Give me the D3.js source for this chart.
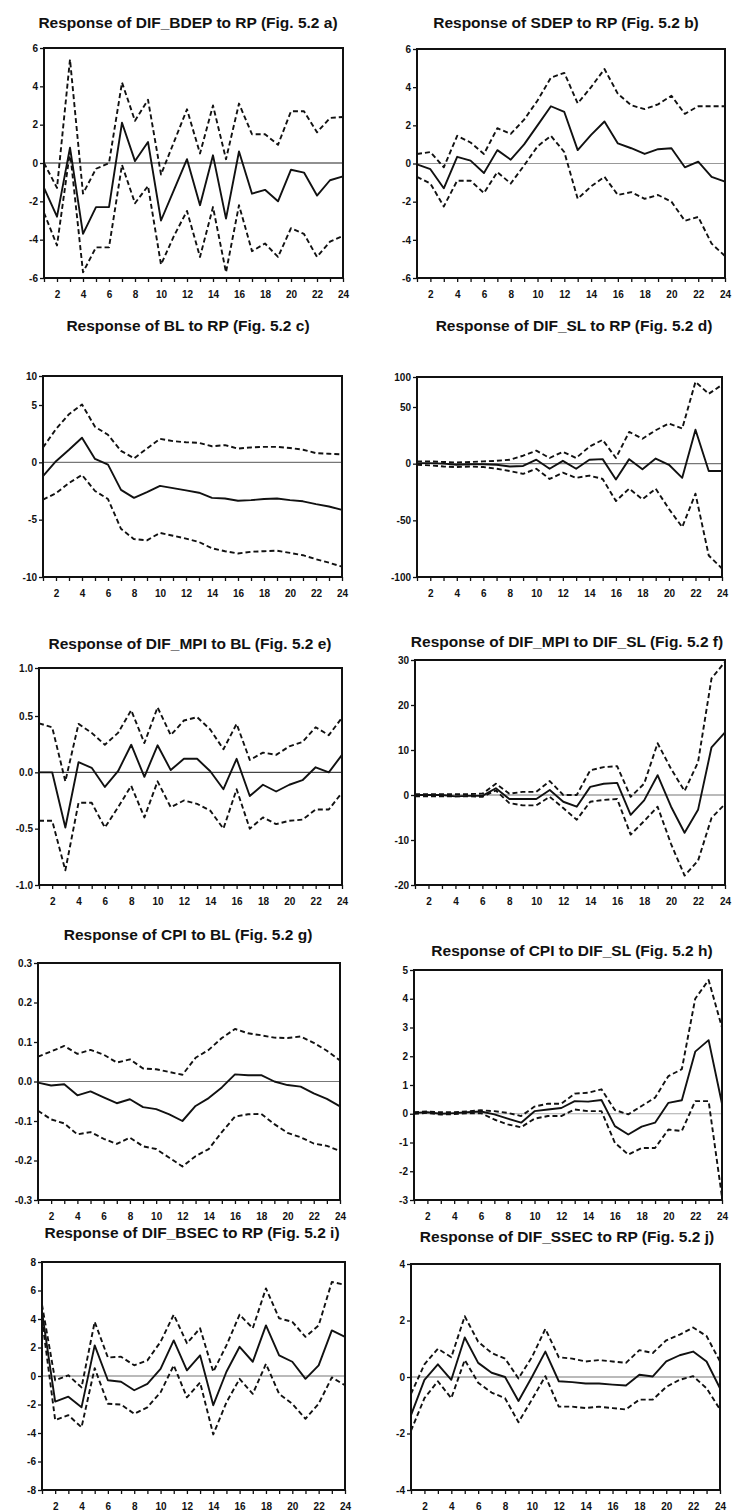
<!DOCTYPE html>
<html>
<head>
<meta charset="utf-8">
<script src="https://cdn.jsdelivr.net/npm/d3@7"></script>
<style>
  html, body { margin: 0; padding: 0; background: #fff; }
  svg { display: block; }
</style>
</head>
<body>
<svg id="chart" width="737" height="1511"></svg>
<script>
const periods = [1, 2, 3, 4, 5, 6, 7, 8, 9, 10, 11, 12, 13, 14, 15, 16, 17, 18, 19, 20, 21, 22, 23, 24];
const xTickLabels = [2, 4, 6, 8, 10, 12, 14, 16, 18, 20, 22, 24];

const titles = [
  "Response of DIF_BDEP to RP (Fig. 5.2 a)",
  "Response of SDEP to RP (Fig. 5.2 b)",
  "Response of BL to RP (Fig. 5.2 c)",
  "Response of DIF_SL to RP (Fig. 5.2 d)",
  "Response of DIF_MPI to BL (Fig. 5.2 e)",
  "Response of DIF_MPI to DIF_SL (Fig. 5.2 f)",
  "Response of CPI to BL (Fig. 5.2 g)",
  "Response of CPI to DIF_SL (Fig. 5.2 h)",
  "Response of DIF_BSEC to RP (Fig. 5.2 i)",
  "Response of DIF_SSEC to RP (Fig. 5.2 j)"
];

// y tick labels per panel
const ticksA = [-6, -4, -2, 0, 2, 4, 6];
const ticksB = [-6, -4, -2, 0, 2, 4, 6];
const ticksC = [-10, -5, 0, 5, 10];
const ticksD = [-100, -50, 0, 50, 100];
const ticksE = [-1.0, -0.5, 0.0, 0.5, 1.0];
const ticksF = [-20, -10, 0, 10, 20, 30];
const ticksG = [-0.3, -0.2, -0.1, 0.0, 0.1, 0.2, 0.3];
const ticksH = [-3, -2, -1, 0, 1, 2, 3, 4, 5];
const ticksI = [-8, -6, -4, -2, 0, 2, 4, 6, 8];
const ticksJ = [-4, -2, 0, 2, 4];

// responses (solid) and +/- 2 s.e. bands (dashed)
const bdepResp  = [-1.3, -2.8, 0.8, -3.7, -2.3, -2.3, 2.1, 0.1, 1.1, -3.0, -1.4, 0.2, -2.2, 0.4, -2.9, 0.6, -1.6, -1.4, -2.0, -0.35, -0.5, -1.7, -0.9, -0.7];
const bdepUpper = [0.0, -1.3, 5.4, -1.6, -0.3, 0.0, 4.2, 2.2, 3.3, -0.6, 1.1, 2.8, 0.5, 3.0, 0.2, 3.1, 1.5, 1.5, 0.95, 2.7, 2.7, 1.6, 2.35, 2.4];
const bdepLower = [-2.6, -4.3, 0.6, -5.7, -4.4, -4.4, -0.1, -2.1, -1.2, -5.3, -3.8, -2.5, -4.9, -2.3, -5.7, -2.2, -4.6, -4.2, -4.9, -3.4, -3.7, -4.9, -4.1, -3.8];

const sdepResp  = [-0.05, -0.3, -1.3, 0.35, 0.15, -0.5, 0.7, 0.2, 1.0, 2.0, 3.0, 2.7, 0.7, 1.5, 2.2, 1.05, 0.8, 0.5, 0.75, 0.8, -0.2, 0.1, -0.7, -0.95];
const sdepUpper = [0.5, 0.6, -0.2, 1.45, 1.1, 0.5, 1.85, 1.55, 2.3, 3.3, 4.5, 4.75, 3.15, 4.0, 4.95, 3.65, 3.05, 2.85, 3.1, 3.55, 2.6, 3.0, 3.0, 3.0];
const sdepLower = [-0.7, -1.05, -2.25, -0.9, -0.9, -1.55, -0.45, -1.05, -0.1, 0.9, 1.45, 0.6, -1.85, -1.2, -0.7, -1.65, -1.5, -1.85, -1.65, -2.0, -3.0, -2.8, -4.2, -4.85];

const blResp  = [-1.2, 0.1, 1.1, 2.15, 0.3, -0.2, -2.4, -3.1, -2.6, -2.05, -2.25, -2.45, -2.65, -3.1, -3.15, -3.35, -3.3, -3.2, -3.15, -3.3, -3.4, -3.65, -3.85, -4.15];
const blUpper = [1.3, 2.9, 4.2, 5.1, 3.1, 2.4, 1.0, 0.35, 1.2, 2.05, 1.85, 1.75, 1.7, 1.4, 1.5, 1.2, 1.3, 1.35, 1.35, 1.25, 1.1, 0.8, 0.75, 0.7];
const blLower = [-3.25, -2.7, -1.8, -1.1, -2.5, -3.2, -5.8, -6.7, -6.8, -6.15, -6.4, -6.65, -6.95, -7.5, -7.75, -7.95, -7.8, -7.75, -7.7, -7.9, -8.1, -8.45, -8.75, -9.1];

const slResp  = [0.5, 0.5, 0, -1, -0.5, -0.5, -1, -2.5, -2, 3.5, -4.5, 2.5, -4.5, 3.5, 4, -14, 4, -5, 4.5, -1, -12.5, 30, -6.5, -6.5];
const slUpper = [2, 2, 1.5, 1, 1.5, 2, 2.5, 3.5, 7, 11.5, 5, 10.5, 5, 15, 21, 5, 28, 22, 29.5, 35.5, 31, 92, 72, 87];
const slLower = [-1, -1.5, -2.5, -3, -2.5, -3, -4.5, -6.5, -9, -4.5, -13.5, -8, -12.5, -10.5, -13.5, -33, -22, -31.5, -22, -40, -56, -26.5, -81, -92.5];

const mpiBlResp  = [0, 0, -0.49, 0.09, 0.04, -0.13, 0.01, 0.245, -0.04, 0.24, 0.02, 0.12, 0.12, 0.01, -0.15, 0.12, -0.21, -0.11, -0.17, -0.11, -0.07, 0.045, 0.0, 0.155];
const mpiBlUpper = [0.435, 0.4, -0.08, 0.43, 0.35, 0.245, 0.35, 0.56, 0.26, 0.59, 0.33, 0.46, 0.49, 0.38, 0.205, 0.43, 0.11, 0.175, 0.155, 0.23, 0.27, 0.4, 0.33, 0.485];
const mpiBlLower = [-0.43, -0.43, -0.87, -0.27, -0.27, -0.49, -0.31, -0.12, -0.4, -0.08, -0.31, -0.25, -0.28, -0.34, -0.5, -0.15, -0.5, -0.4, -0.46, -0.43, -0.42, -0.33, -0.33, -0.18];

const mpiSlResp  = [0, 0, 0, -0.3, -0.2, -0.2, 1.5, -0.9, -0.9, -0.9, 1.1, -1.5, -2.6, 1.8, 2.5, 2.7, -4.4, -1.2, 4.4, -2.6, -8.4, -3.3, 10.6, 13.9];
const mpiSlUpper = [0.2, 0.2, 0.2, 0.2, 0.2, 0.3, 2.5, 0.3, 0.7, 0.7, 3.1, 0, 0, 5.5, 6.2, 6.4, -0.4, 2.5, 11.5, 5.8, 0.9, 7.3, 25.9, 29.6];
const mpiSlLower = [-0.3, -0.3, -0.3, -0.3, -0.3, -0.4, 1.0, -1.8, -2.3, -2.3, -0.4, -2.9, -5.5, -1.5, -1.1, -0.9, -8.8, -5.8, -2.6, -10.9, -17.9, -14.6, -5.1, -2.0];

const cpiBlResp  = [-0.003, -0.01, -0.007, -0.035, -0.025, -0.04, -0.055, -0.045, -0.065, -0.07, -0.083, -0.1, -0.062, -0.042, -0.015, 0.018, 0.016, 0.016, 0.0, -0.009, -0.013, -0.03, -0.044, -0.063];
const cpiBlUpper = [0.063, 0.076, 0.09, 0.07, 0.08, 0.068, 0.048, 0.056, 0.033, 0.031, 0.024, 0.017, 0.06, 0.08, 0.11, 0.133, 0.122, 0.117, 0.111, 0.11, 0.114, 0.098, 0.078, 0.053];
const cpiBlLower = [-0.074, -0.096, -0.106, -0.134, -0.128, -0.145, -0.158, -0.142, -0.164, -0.171, -0.193, -0.215, -0.189, -0.171, -0.128, -0.089, -0.083, -0.082, -0.108, -0.13, -0.141, -0.157, -0.163, -0.176];

const cpiSlResp  = [0.03, 0.05, 0.0, 0.02, 0.05, 0.08, -0.02, -0.17, -0.31, 0.09, 0.15, 0.2, 0.44, 0.42, 0.48, -0.43, -0.72, -0.45, -0.31, 0.38, 0.47, 2.16, 2.56, 0.35];
const cpiSlUpper = [0.05, 0.08, 0.05, 0.05, 0.08, 0.12, 0.09, 0.03, -0.08, 0.25, 0.35, 0.35, 0.7, 0.73, 0.85, 0.13, -0.02, 0.27, 0.56, 1.31, 1.55, 4.0, 4.65, 3.0];
const cpiSlLower = [0.0, 0.03, -0.03, -0.01, 0.02, 0.02, -0.2, -0.37, -0.47, -0.17, -0.08, -0.08, 0.15, 0.09, 0.09, -1.01, -1.42, -1.19, -1.19, -0.55, -0.6, 0.44, 0.44, -2.9];

const bsecResp  = [4.5, -1.8, -1.45, -2.2, 2.15, -0.3, -0.4, -1.0, -0.55, 0.5, 2.5, 0.4, 1.45, -2.05, 0.3, 2.05, 1.0, 3.55, 1.45, 1.0, -0.2, 0.75, 3.2, 2.75];
const bsecUpper = [5.0, -0.3, 0.05, -0.8, 3.8, 1.3, 1.35, 0.75, 1.1, 2.4, 4.3, 2.3, 3.35, 0.3, 2.15, 4.3, 3.35, 6.15, 4.05, 3.8, 2.75, 3.55, 6.6, 6.4];
const bsecLower = [4.0, -3.1, -2.75, -3.6, 0.55, -1.95, -2.0, -2.65, -2.2, -1.15, 0.75, -1.5, -0.45, -4.1, -1.85, -0.2, -1.25, 0.85, -1.25, -1.95, -3.0, -1.95, -0.1, -0.65];

const ssecResp  = [-1.35, -0.1, 0.45, -0.1, 1.4, 0.5, 0.15, 0.0, -0.85, 0.0, 0.9, -0.15, -0.18, -0.23, -0.23, -0.27, -0.3, 0.08, 0.02, 0.55, 0.77, 0.9, 0.55, -0.4];
const ssecUpper = [-0.6, 0.45, 1.0, 0.7, 2.15, 1.25, 0.85, 0.65, -0.05, 0.7, 1.7, 0.7, 0.65, 0.55, 0.6, 0.55, 0.5, 0.95, 0.85, 1.3, 1.5, 1.75, 1.45, 0.55];
const ssecLower = [-1.9, -0.75, -0.15, -0.75, 0.6, -0.2, -0.55, -0.75, -1.6, -0.8, 0.03, -1.05, -1.05, -1.1, -1.05, -1.1, -1.15, -0.8, -0.8, -0.35, -0.1, 0.03, -0.4, -1.15];

const fmtInt = d => String(d);
const fmtDec = d => d.toFixed(1);

// panel geometry; yDom/yPx pairs (scanned axes are slightly squeezed at the top in c, d, e)
const panels = [
  { title: titles[0], resp: bdepResp,  upper: bdepUpper,  lower: bdepLower,  ticks: ticksA, fmt: fmtInt,
    x0: 44,  x1: 343, yDom: [6, -6],         yPx: [48, 278],        tx: 188, ty: 28,   zero: "#222" },
  { title: titles[1], resp: sdepResp,  upper: sdepUpper,  lower: sdepLower,  ticks: ticksB, fmt: fmtInt,
    x0: 417, x1: 725, yDom: [6, -6],         yPx: [49, 278],        tx: 566, ty: 28,   zero: "#999" },
  { title: titles[2], resp: blResp,    upper: blUpper,    lower: blLower,    ticks: ticksC, fmt: fmtInt,
    x0: 43,  x1: 342, yDom: [10, 5, -10],    yPx: [376, 405, 577],  tx: 188, ty: 331,  zero: "#777" },
  { title: titles[3], resp: slResp,    upper: slUpper,    lower: slLower,    ticks: ticksD, fmt: fmtInt,
    x0: 417, x1: 722, yDom: [100, 50, -100], yPx: [377, 407, 577],  tx: 574, ty: 331,  zero: "#777" },
  { title: titles[4], resp: mpiBlResp, upper: mpiBlUpper, lower: mpiBlLower, ticks: ticksE, fmt: fmtDec,
    x0: 39,  x1: 342, yDom: [1, 0.5, -1],    yPx: [668, 716, 885],  tx: 190, ty: 649,  zero: "#444" },
  { title: titles[5], resp: mpiSlResp, upper: mpiSlUpper, lower: mpiSlLower, ticks: ticksF, fmt: fmtInt,
    x0: 415, x1: 725, yDom: [30, -20],       yPx: [660, 885],       tx: 567, ty: 647,  zero: "#777" },
  { title: titles[6], resp: cpiBlResp, upper: cpiBlUpper, lower: cpiBlLower, ticks: ticksG, fmt: fmtDec,
    x0: 38,  x1: 340, yDom: [0.3, -0.3],     yPx: [963, 1200],      tx: 188, ty: 940,  zero: "#777" },
  { title: titles[7], resp: cpiSlResp, upper: cpiSlUpper, lower: cpiSlLower, ticks: ticksH, fmt: fmtInt,
    x0: 414, x1: 722, yDom: [5, -3],         yPx: [970, 1200],      tx: 572, ty: 956,  zero: "#aaa" },
  { title: titles[8], resp: bsecResp,  upper: bsecUpper,  lower: bsecLower,  ticks: ticksI, fmt: fmtInt,
    x0: 42,  x1: 345, yDom: [8, -8],         yPx: [1262, 1490],     tx: 192, ty: 1238, zero: "#777" },
  { title: titles[9], resp: ssecResp,  upper: ssecUpper,  lower: ssecLower,  ticks: ticksJ, fmt: fmtInt,
    x0: 411, x1: 720, yDom: [4, -4],         yPx: [1264, 1490],     tx: 567, ty: 1242, zero: "#777" }
];

const svg = d3.select("#chart");
const font = "'Liberation Sans', Arial, sans-serif";

panels.forEach(p => {
  const g = svg.append("g");

  const x = d3.scaleLinear().domain([1, 24]).range([p.x0, p.x1]);
  const y = d3.scaleLinear().domain(p.yDom).range(p.yPx);
  const yTop = p.yPx[0];
  const yBot = p.yPx[p.yPx.length - 1];

  // title
  g.append("text")
    .attr("x", p.tx)
    .attr("y", p.ty)
    .attr("text-anchor", "middle")
    .attr("font-family", font)
    .attr("font-weight", "bold")
    .attr("font-size", "15.5px")
    .attr("fill", "#111")
    .text(p.title);

  // zero line
  g.append("line")
    .attr("x1", p.x0).attr("x2", p.x1)
    .attr("y1", y(0)).attr("y2", y(0))
    .attr("stroke", p.zero)
    .attr("stroke-width", 1.2);

  const line = d3.line()
    .x((d, i) => x(periods[i]))
    .y(d => y(d));

  [p.upper, p.lower].forEach(s => {
    g.append("path")
      .datum(s)
      .attr("d", line)
      .attr("fill", "none")
      .attr("stroke", "#111")
      .attr("stroke-width", 1.9)
      .attr("stroke-dasharray", "5,3")
      .attr("stroke-linejoin", "round");
  });

  g.append("path")
    .datum(p.resp)
    .attr("d", line)
    .attr("fill", "none")
    .attr("stroke", "#111")
    .attr("stroke-width", 1.9)
    .attr("stroke-linejoin", "round");

  // axes
  const yAxis = g.append("g")
    .attr("transform", `translate(${p.x0},0)`)
    .call(d3.axisLeft(y).tickValues(p.ticks).tickFormat(p.fmt).tickSize(4).tickPadding(2));
  yAxis.select(".domain").remove();

  const xAxis = g.append("g")
    .attr("transform", `translate(0,${yBot})`)
    .call(d3.axisBottom(x).tickValues(periods)
      .tickFormat(d => xTickLabels.includes(d) ? d : "")
      .tickSize(4).tickPadding(9));
  xAxis.select(".domain").remove();

  [yAxis, xAxis].forEach(a => {
    a.selectAll("line").attr("stroke", "#111").attr("stroke-width", 1.3);
    a.selectAll("text")
      .attr("fill", "#111")
      .attr("font-family", font)
      .attr("font-weight", "bold")
      .attr("font-size", "10px");
  });

  // frame
  g.append("rect")
    .attr("x", p.x0).attr("y", yTop)
    .attr("width", p.x1 - p.x0).attr("height", yBot - yTop)
    .attr("fill", "none")
    .attr("stroke", "#111")
    .attr("stroke-width", 2);
});
</script>
</body>
</html>
